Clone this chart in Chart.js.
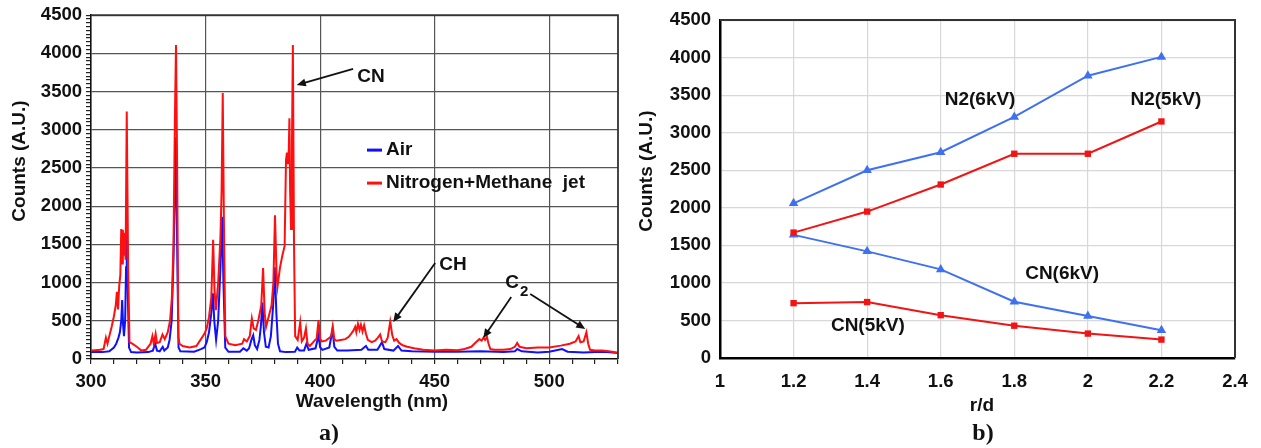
<!DOCTYPE html>
<html lang="en">
<head>
<meta charset="UTF-8" />
<title>Emission spectra and band intensity vs r/d</title>
<script src="https://cdn.jsdelivr.net/npm/chart.js@4.4.1/dist/chart.umd.min.js"></script>
<style>
body { margin: 0; background: #fff; width: 1261px; height: 448px; overflow: hidden; position: relative; }
#chartA { position: absolute; left: 0; top: 0; }
#chartB { position: absolute; left: 630px; top: 0; }
.tag { position: absolute; font: bold 24px "Liberation Serif", "Times New Roman", serif; color: #111; transform: translate(-50%, -50%); }
</style>
</head>
<body>
<canvas id="chartA" width="630" height="448"></canvas>
<canvas id="chartB" width="631" height="448"></canvas>
<div class="tag" style="left:329px; top:432px;">a)</div>
<div class="tag" style="left:983px; top:432px;">b)</div>

<script>
// --- a) emission spectra, wavelength (nm) vs counts ---
const airNm = [
  300, 305, 308, 310, 311, 312, 312.6, 313.2, 313.6, 314,
  314.4, 314.9, 315.3, 315.6, 316.1, 316.6, 317.5, 320, 325, 327,
  328, 328.8, 330, 331.3, 332, 333.5, 334.3, 335.2, 336, 336.6,
  337, 337.5, 338.2, 339, 345, 348, 349.5, 350.5, 351.5, 352.5,
  353.2, 353.8, 354.6, 355.5, 356.5, 357.2, 357.8, 358.6, 360, 365,
  366.5, 368, 369, 370, 370.8, 371.5, 372.5, 373.5, 374.2, 374.8,
  375.5, 376.3, 377.5, 378.5, 379.5, 380.2, 380.9, 381.6, 382.5, 385,
  389, 390, 391, 393, 394, 395, 398, 399.3, 400, 401,
  404, 405.4, 406.2, 407.5, 412, 418, 420, 421, 425, 427,
  428, 432, 434, 435.5, 440, 450, 460, 470, 480, 485,
  486, 488, 495, 500, 505.6, 508, 515, 520, 525, 530
];
const airCounts = [
  90, 90, 100, 150, 200, 280, 350, 500, 770, 450,
  300, 500, 1200, 1900, 800, 150, 90, 85, 90, 110,
  200, 110, 100, 160, 110, 150, 250, 500, 1300, 2200,
  2900, 1700, 150, 100, 95, 130, 150, 220, 350, 600,
  860, 500, 250, 500, 1200, 1860, 1000, 150, 95, 95,
  140, 110, 140, 250, 310, 180, 130, 250, 450, 740,
  350, 160, 150, 300, 700, 1200, 600, 200, 100, 90,
  95, 150, 110, 110, 200, 120, 140, 310, 150, 120,
  150, 380, 160, 110, 110, 120, 170, 120, 120, 220,
  130, 110, 170, 110, 100, 95, 95, 100, 90, 100,
  130, 100, 85, 95, 130, 95, 85, 90, 90, 80
];
const jetNm = [
  300, 302, 304, 305.5, 306.5, 307.2, 308, 309, 310, 310.8,
  311.3, 311.8, 312.3, 312.8, 313.2, 313.6, 313.9, 314.3, 314.7, 315.1,
  315.6, 316.2, 316.8, 318, 320, 322, 324, 326, 326.8, 327.4,
  328.2, 328.8, 330, 331.2, 332.2, 333.5, 334.5, 335.3, 336, 336.6,
  337.1, 337.6, 338.1, 338.6, 340, 343, 346, 348, 349.5, 350.5,
  351.5, 352.5, 353.3, 353.9, 354.5, 355.5, 356.5, 357, 357.5, 358,
  358.6, 360, 363, 366, 366.8, 368, 369.3, 370.2, 371, 372,
  373, 374.3, 375.1, 375.8, 376.4, 377.5, 378.8, 379.6, 380.3, 381,
  381.4, 382.5, 383.5, 384.5, 385.1, 385.5, 385.9, 386.3, 386.6, 386.9,
  387.3, 387.7, 388.1, 388.6, 389.1, 390.2, 391.3, 392, 393, 393.8,
  394.5, 395.5, 397, 398.5, 399.3, 400, 400.8, 402.5, 404.2, 404.8,
  405.5, 406.2, 407, 409, 411, 412.5, 413.5, 414.5, 415.3, 415.8,
  416.5, 417.2, 417.8, 418.5, 419.2, 420, 420.8, 422.5, 424, 425.2,
  426.2, 427, 428.5, 429.5, 430.6, 431.5, 432.3, 433.3, 434.5, 436,
  438, 441, 445, 450, 455, 460, 463, 466, 468, 469.5,
  470.5, 471.3, 472, 472.8, 473.5, 474.3, 476, 480, 483, 485,
  486, 487, 490, 495, 500, 505, 509, 511.5, 512.8, 513.6,
  515, 516.2, 517, 517.8, 520, 523, 526, 530
];
const jetCounts = [
  110, 115, 120, 130, 280, 200, 300, 420, 560, 700,
  880, 650, 950, 1100, 1700, 1250, 1690, 1350, 1650, 1300,
  3240, 1200, 220, 200, 160, 110, 120, 200, 300, 200,
  330, 210, 220, 320, 260, 350, 500, 800, 1500, 3100,
  4110, 2500, 300, 200, 170, 150, 170, 260, 330, 400,
  550, 800, 1560, 900, 640, 1000, 1600, 2200, 3480, 1800,
  300, 200, 180, 200, 260, 230, 300, 530, 400, 380,
  500, 700, 1190, 600, 420, 550, 700, 1000, 1880, 1100,
  950, 1200, 1350, 1480, 2600, 2700, 2550, 2720, 3150, 2200,
  1700, 2800, 4110, 1500, 300, 250, 480, 230, 280, 400,
  200, 170, 220, 270, 510, 260, 230, 240, 280, 300,
  430, 260, 240, 250, 260, 290, 330, 370, 420, 350,
  460, 380, 450, 360, 440, 330, 250, 220, 240, 280,
  320, 230, 220, 280, 490, 310, 240, 260, 210, 180,
  160, 140, 120, 110, 120, 115, 130, 160, 220, 260,
  240, 280, 250, 290, 200, 130, 120, 120, 130, 160,
  210, 160, 140, 150, 150, 175, 200, 230, 300, 220,
  230, 350, 200, 120, 110, 110, 100, 80
];

// --- b) band counts vs r/d ---
const rd = [1.2, 1.4, 1.6, 1.8, 2.0, 2.2];
const n2At6kV = [2060, 2500, 2740, 3210, 3760, 4010];
const n2At5kV = [1670, 1950, 2310, 2720, 2720, 3150];
const cnAt6kV = [1640, 1420, 1180, 750, 560, 370];
const cnAt5kV = [730, 745, 570, 430, 325, 245];

const FONT = "'Liberation Sans', Arial, sans-serif";
Chart.defaults.font.family = FONT;
Chart.defaults.font.weight = 'bold';
Chart.defaults.color = '#111';
Chart.defaults.animation = false;

function pairs(xs, ys) {
  return xs.map((v, i) => ({ x: v, y: ys[i] }));
}

// titles, frame, legend, labels and arrows drawn on top of the plot
const overlay = {
  id: 'overlay',
  afterDraw(chart, args, o) {
    const { ctx, chartArea: a, scales: { x, y } } = chart;
    ctx.save();

    // top + right edge of the frame
    ctx.strokeStyle = o.frameColor;
    ctx.lineWidth = o.frameWidth;
    ctx.beginPath();
    ctx.moveTo(a.left, a.top);
    ctx.lineTo(a.right, a.top);
    ctx.lineTo(a.right, a.bottom);
    ctx.stroke();

    ctx.fillStyle = '#111';
    ctx.textAlign = 'center';
    ctx.textBaseline = 'middle';
    ctx.font = 'bold 19px ' + FONT;
    ctx.fillText(o.xTitle.text, o.xTitle.x, o.xTitle.y);
    ctx.save();
    ctx.translate(o.yTitle.x, o.yTitle.y);
    ctx.rotate(-Math.PI / 2);
    ctx.fillText(o.yTitle.text, 0, 0);
    ctx.restore();

    // legend
    if (o.legend) {
      chart.data.datasets.forEach((ds, i) => {
        const ly = a.top + o.legend.top + i * o.legend.gap;
        const lx = a.left + o.legend.left;
        ctx.strokeStyle = ds.borderColor;
        ctx.lineWidth = 3;
        ctx.beginPath();
        ctx.moveTo(lx, ly);
        ctx.lineTo(lx + 15, ly);
        ctx.stroke();
        ctx.textAlign = 'left';
        ctx.fillText(ds.label, lx + 19, ly);
      });
    }

    // arrows
    ctx.strokeStyle = '#111';
    ctx.lineWidth = 1.8;
    (o.arrows || []).forEach(ar => {
      const x0 = x.getPixelForValue(ar.from[0]), y0 = y.getPixelForValue(ar.from[1]);
      const x1 = x.getPixelForValue(ar.to[0]), y1 = y.getPixelForValue(ar.to[1]);
      const ang = Math.atan2(y1 - y0, x1 - x0);
      ctx.beginPath();
      ctx.moveTo(x0, y0);
      ctx.lineTo(x1 - 6 * Math.cos(ang), y1 - 6 * Math.sin(ang));
      ctx.stroke();
      ctx.beginPath();
      ctx.moveTo(x1, y1);
      ctx.lineTo(x1 - 9 * Math.cos(ang) + 4 * Math.sin(ang), y1 - 9 * Math.sin(ang) - 4 * Math.cos(ang));
      ctx.lineTo(x1 - 9 * Math.cos(ang) - 4 * Math.sin(ang), y1 - 9 * Math.sin(ang) + 4 * Math.cos(ang));
      ctx.closePath();
      ctx.fill();
    });

    // text labels
    (o.notes || []).forEach(n => {
      const px = x.getPixelForValue(n.at[0]), py = y.getPixelForValue(n.at[1]);
      ctx.font = 'bold ' + (n.size || 19) + 'px ' + FONT;
      ctx.textAlign = n.align || 'center';
      ctx.fillText(n.text, px, py);
      if (n.sub) {
        const w = ctx.measureText(n.text).width;
        ctx.font = 'bold 15px ' + FONT;
        ctx.textAlign = 'left';
        ctx.fillText(n.sub, px + w + 1, py + 9);
      }
    });
    ctx.restore();
  }
};

const tickFont = { size: 18.5, weight: 'bold' };
const none = 'rgba(0,0,0,0)';

new Chart(document.getElementById('chartA'), {
  type: 'line',
  data: {
    datasets: [
      { label: 'Air', data: pairs(airNm, airCounts), borderColor: '#1010ff', borderWidth: 2, pointRadius: 0, order: 2 },
      { label: 'Nitrogen+Methane  jet', data: pairs(jetNm, jetCounts), borderColor: '#ff1010', borderWidth: 2, pointRadius: 0, order: 1 }
    ]
  },
  options: {
    responsive: false,
    layout: { padding: { top: 15, right: 12, left: 0, bottom: 0 } },
    plugins: {
      legend: { display: false },
      tooltip: { enabled: false },
      overlay: {
        frameColor: '#333', frameWidth: 1.8,
        xTitle: { text: 'Wavelength (nm)', x: 372, y: 402 },
        yTitle: { text: 'Counts (A.U.)', x: 20, y: 161 },
        legend: { left: 276, top: 135, gap: 33 },
        arrows: [
          { from: [414.4, 3796], to: [389.8, 3586] },
          { from: [450.2, 1257], to: [431.9, 484] },
          { from: [483.4, 812], to: [471.2, 275] },
          { from: [491.7, 851], to: [515.7, 393] }
        ],
        notes: [
          { text: 'CN', at: [416.2, 3691], align: 'left' },
          { text: 'CH', at: [452, 1230], align: 'left' },
          { text: 'C', at: [480.8, 995], align: 'left', sub: '2' }
        ]
      }
    },
    scales: {
      x: {
        type: 'linear', min: 300, max: 530,
        afterFit: s => { s.height = 89; },
        ticks: {
          stepSize: 10, maxTicksLimit: 40, autoSkip: false, maxRotation: 0,
          font: tickFont, color: '#111', padding: 7,
          callback: v => (v % 50 === 0 ? String(v) : '')
        },
        grid: {
          color: c => (c.tick && c.tick.value % 50 === 0 && c.tick.value !== 300 ? '#555' : none),
          lineWidth: 1.2, tickLength: 5, tickColor: '#222', tickWidth: 1.2
        },
        border: { color: '#111', width: 1.6 }
      },
      y: {
        min: 0, max: 4500,
        afterFit: s => { s.width = 91; },
        ticks: {
          stepSize: 50, maxTicksLimit: 100, autoSkip: false,
          font: tickFont, color: '#111', padding: 4,
          callback: v => (v % 500 === 0 ? String(v) : '')
        },
        grid: {
          color: c => (c.tick && c.tick.value % 500 === 0 && c.tick.value !== 0 ? '#555' : none),
          lineWidth: 1.2, tickLength: 5, tickColor: '#222', tickWidth: 1.2
        },
        border: { color: '#111', width: 1.6 }
      }
    }
  },
  plugins: [overlay]
});

const blue = '#3f70f2', red = '#f01414';
function series(label, ys, color, shape) {
  return {
    label, data: pairs(rd, ys), borderColor: color, backgroundColor: color, borderWidth: 2,
    pointStyle: shape, pointRadius: shape === 'triangle' ? 5.5 : 4.5, pointBorderWidth: 0
  };
}

new Chart(document.getElementById('chartB'), {
  type: 'line',
  data: {
    datasets: [
      series('N2(6kV)', n2At6kV, blue, 'triangle'),
      series('N2(5kV)', n2At5kV, red, 'rect'),
      series('CN(6kV)', cnAt6kV, blue, 'triangle'),
      series('CN(5kV)', cnAt5kV, red, 'rect')
    ]
  },
  options: {
    responsive: false,
    layout: { padding: { top: 18, right: 26, left: 0, bottom: 0 } },
    plugins: {
      legend: { display: false },
      tooltip: { enabled: false },
      overlay: {
        frameColor: '#333', frameWidth: 2,
        xTitle: { text: 'r/d', x: 352, y: 406 },
        yTitle: { text: 'Counts (A.U.)', x: 17, y: 171 },
        notes: [
          { text: 'N2(6kV)', at: [1.707, 3441] },
          { text: 'N2(5kV)', at: [2.212, 3441] },
          { text: 'CN(6kV)', at: [1.93, 1125] },
          { text: 'CN(5kV)', at: [1.402, 424] }
        ]
      }
    },
    scales: {
      x: {
        type: 'linear', min: 1, max: 2.4,
        afterFit: s => { s.height = 90; },
        ticks: {
          stepSize: 0.2, font: tickFont, color: '#111', padding: 13, maxRotation: 0,
          callback: v => String(Number(v.toFixed(1)))
        },
        grid: { color: '#d8d8d8', lineWidth: 1.2, drawTicks: false },
        border: { color: '#000', width: 2.5 }
      },
      y: {
        min: 0, max: 4500,
        afterFit: s => { s.width = 90; },
        ticks: { stepSize: 500, font: tickFont, color: '#111', padding: 9, callback: v => String(v) },
        grid: { color: '#d8d8d8', lineWidth: 1.2, drawTicks: false },
        border: { color: '#000', width: 2.5 }
      }
    }
  },
  plugins: [overlay]
});
</script>
</body>
</html>
